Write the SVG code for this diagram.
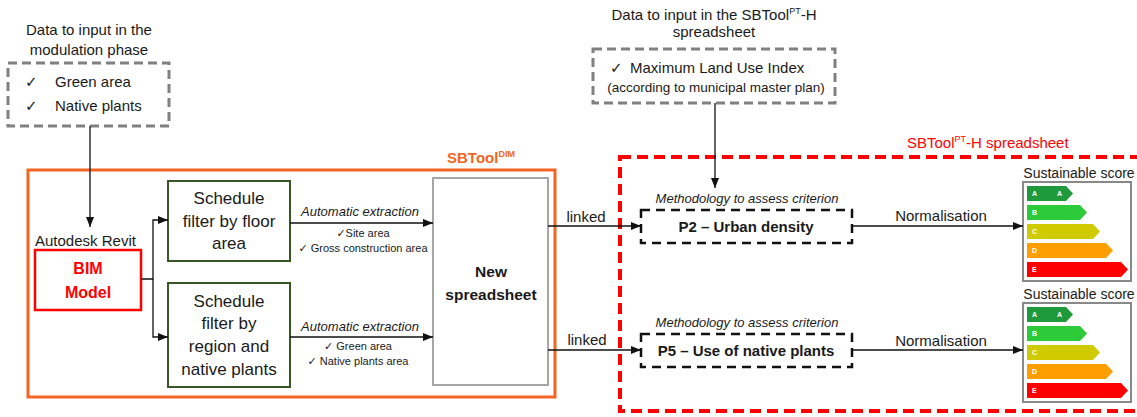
<svg xmlns="http://www.w3.org/2000/svg" xmlns:xlink="http://www.w3.org/1999/xlink" width="1137" height="417" viewBox="0 0 1137 417">
<style>
text{font-family:"Liberation Sans",Arial,"DejaVu Sans",sans-serif;fill:#1a1a1a}
.t15{font-size:15px}
.c{text-anchor:middle}
.b{font-weight:bold}
.it{font-style:italic}
.sm{font-size:11px}
.ck{font-family:"DejaVu Sans",sans-serif}
.gdash{fill:none;stroke:#808080;stroke-width:3;stroke-dasharray:9 5}
.kdash{fill:#fff;stroke:#111;stroke-width:2.5;stroke-dasharray:9 6}
.sched{fill:#fff;stroke:#385723;stroke-width:2}
.conn path{fill:none;stroke:#111;stroke-width:1.3}
.arr{marker-end:url(#ah)}
.bl{fill:#fff;font-size:7px;font-weight:bold}
</style>
<defs>
<marker id="ah" viewBox="0 0 10 10" refX="10" refY="5" markerWidth="11" markerHeight="10" markerUnits="userSpaceOnUse" orient="auto"><path d="M0,1 L10,5 L0,9 z" fill="#111"/></marker>
<g id="chart">
<rect x="0" y="0" width="108" height="99" fill="#fff" stroke="#888" stroke-width="2"/>
<path d="M4,4 H43 L50,11.5 L43,19 H4 Z" fill="#1E9A3C"/>
<path d="M4,23 H57 L64,30.5 L57,38 H4 Z" fill="#2DCB3A"/>
<path d="M4,42 H70 L77,49.5 L70,57 H4 Z" fill="#CFCB00"/>
<path d="M4,61 H83 L90,68.5 L83,76 H4 Z" fill="#FF9E00"/>
<path d="M4,80 H98 L105,87.5 L98,95 H4 Z" fill="#FF0000"/>
<text x="9" y="14" class="bl">A</text><text x="34" y="14" class="bl">A</text>
<text x="9" y="33" class="bl">B</text>
<text x="9" y="52" class="bl">C</text>
<text x="9" y="71" class="bl">D</text>
<text x="9" y="90" class="bl">E</text>
</g>
</defs>
<rect width="1137" height="417" fill="#fff"/>

<g id="input-modulation">
<text x="89" y="35" class="t15 c">Data to input in the</text>
<text x="89" y="55" class="t15 c">modulation phase</text>
<rect x="8" y="63" width="161" height="63" class="gdash"/>
<text x="25" y="87" class="t15 ck">✓</text><text x="55" y="87" class="t15">Green area</text>
<text x="25" y="111" class="t15 ck">✓</text><text x="55" y="111" class="t15">Native plants</text>
</g>

<g id="input-sbtool">
<text x="714" y="20" class="t15 c">Data to input in the SBTool<tspan font-size="9" dy="-6">PT</tspan><tspan dy="6">-H</tspan></text>
<text x="714" y="37" class="t15 c">spreadsheet</text>
<rect x="593" y="49" width="242" height="54" class="gdash"/>
<text x="610" y="73" class="t15 ck">✓</text><text x="630" y="73" class="t15">Maximum Land Use Index</text>
<text x="716" y="92" class="c" font-size="13.5">(according to municipal master plan)</text>
</g>

<g id="sbtool-dim">
<rect x="28" y="170" width="527" height="227" fill="none" stroke="#F26522" stroke-width="3"/>
<text x="447" y="163" class="t15 b" style="fill:#F26522">SBTool<tspan font-size="9" dy="-6">DIM</tspan></text>
</g>

<g id="bim-model">
<text x="35" y="246" class="t15">Autodesk Revit</text>
<rect x="35" y="250" width="106" height="60" fill="#fff" stroke="#FF0000" stroke-width="2.5"/>
<text x="88" y="274" class="c b" font-size="16" style="fill:#FF0000">BIM</text>
<text x="88" y="298" class="c b" font-size="16" style="fill:#FF0000">Model</text>
</g>

<g id="schedule-floor">
<rect x="168" y="181" width="122" height="80" class="sched"/>
<text x="229" y="204" class="c" font-size="17">Schedule</text>
<text x="229" y="227" class="c" font-size="17">filter by floor</text>
<text x="229" y="249" class="c" font-size="17">area</text>
</g>

<g id="schedule-region">
<rect x="168" y="283" width="122" height="104" class="sched"/>
<text x="229" y="307" class="c" font-size="17">Schedule</text>
<text x="229" y="329" class="c" font-size="17">filter by</text>
<text x="229" y="352" class="c" font-size="17">region and</text>
<text x="229" y="375" class="c" font-size="17">native plants</text>
</g>

<g id="new-spreadsheet">
<rect x="433" y="178" width="115" height="207" fill="#fff" stroke="#a6a6a6" stroke-width="2"/>
<text x="491" y="277" class="c b" font-size="15.5">New</text>
<text x="491" y="300" class="c b" font-size="15.5">spreadsheet</text>
</g>

<g id="sbtool-pth">
<rect x="620" y="157" width="530" height="254" fill="none" stroke="#FF0000" stroke-width="4" stroke-dasharray="11 6"/>
<text x="907" y="148" class="t15" style="fill:#FF0000">SBTool<tspan font-size="9" dy="-6">PT</tspan><tspan dy="6">-H spreadsheet</tspan></text>
</g>

<g id="p2">
<text x="747" y="203" class="c it" font-size="13">Methodology to assess criterion</text>
<rect x="641" y="210" width="211" height="33" class="kdash"/>
<text x="746" y="232" class="c b" font-size="15">P2 – Urban density</text>
</g>

<g id="p5">
<text x="747" y="327" class="c it" font-size="13">Methodology to assess criterion</text>
<rect x="641" y="334" width="211" height="33" class="kdash"/>
<text x="746" y="356" class="c b" font-size="15">P5 – Use of native plants</text>
</g>

<g id="score-1">
<text x="1079" y="178" class="c" font-size="14">Sustainable score</text>
<use xlink:href="#chart" href="#chart" x="1023" y="182"/>
</g>

<g id="score-2">
<text x="1079" y="299" class="c" font-size="14">Sustainable score</text>
<use xlink:href="#chart" href="#chart" x="1023" y="303"/>
</g>

<g id="connectors" class="conn">
<path d="M90,126 V227" class="arr"/>
<path d="M141,279 H153 V220 H168" class="arr"/>
<path d="M153,279 V337 H168" class="arr"/>
<path d="M290,223 H433" class="arr"/>
<path d="M290,337 H433" class="arr"/>
<path d="M548,226 H641" class="arr"/>
<path d="M548,350 H641" class="arr"/>
<path d="M715,103 V188" class="arr"/>
<path d="M852,226 H1023" class="arr"/>
<path d="M852,350 H1023" class="arr"/>
<text x="360" y="216" class="c it" font-size="13">Automatic extraction</text>
<text x="363" y="237" class="c sm"><tspan class="ck">✓</tspan>Site area</text>
<text x="363" y="252" class="c sm"><tspan class="ck">✓</tspan> Gross construction area</text>
<text x="360" y="331" class="c it" font-size="13">Automatic extraction</text>
<text x="358" y="350" class="c sm"><tspan class="ck">✓</tspan> Green area</text>
<text x="358" y="365" class="c sm"><tspan class="ck">✓</tspan> Native plants area</text>
<text x="586" y="222" class="t15 c">linked</text>
<text x="587" y="345" class="t15 c">linked</text>
<text x="941" y="221" class="t15 c">Normalisation</text>
<text x="941" y="346" class="t15 c">Normalisation</text>
</g>
</svg>
